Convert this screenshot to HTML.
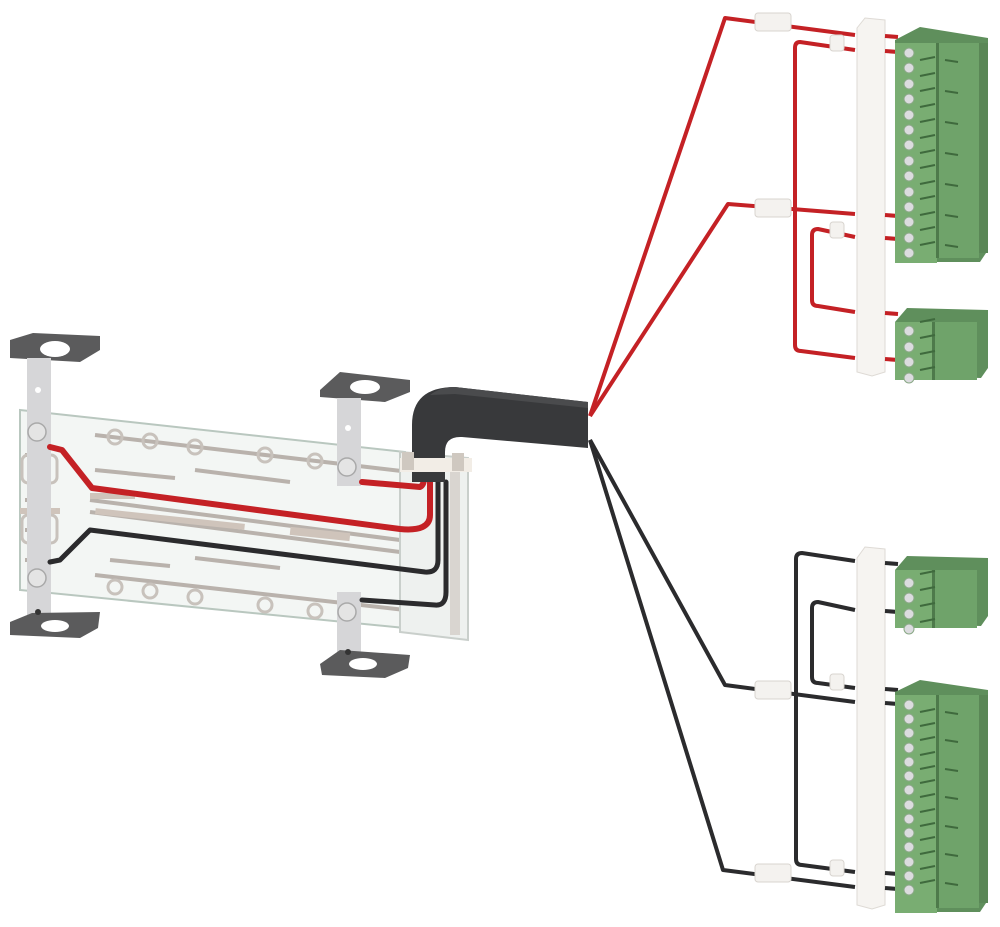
<!DOCTYPE html>
<html><head><meta charset="utf-8"><style>html,body{margin:0;padding:0;background:#fff}svg{display:block}</style></head>
<body>
<svg width="1000" height="927" viewBox="0 0 1000 927" xmlns="http://www.w3.org/2000/svg">
<defs>
<g id="pin4">
  <polygon points="0,14 12,0 93,2 93,60 86,70 0,68" fill="#5f8f5c"/>
  <rect x="0" y="14" width="40" height="58" fill="#79ad72"/>
  <rect x="40" y="14" width="42" height="58" fill="#6fa36a"/>
  <rect x="37" y="14" width="3" height="58" fill="#4e7a4b"/>
</g>
</defs>

<!-- LEFT ASSEMBLY -->
<!-- panel -->
<polygon points="20,410 405,452 405,628 20,590" fill="#f3f6f4" stroke="#b9c7bf" stroke-width="2"/>
<g fill="none" stroke="#b9b2ac" stroke-width="4">
  <path d="M95,435 L410,472"/>
  <path d="M95,470 L175,478 M195,470 L290,482"/>
  <path d="M90,500 L400,540"/>
  <path d="M90,512 L400,552"/>
  <path d="M95,575 L405,610"/>
  <path d="M110,560 L170,566 M195,558 L280,568"/>
  <path d="M25,455 L50,455 M25,500 L50,500 M25,530 L50,530 M25,560 L50,560"/>
</g>
<g fill="none" stroke="#c8c2bc" stroke-width="3">
  <circle cx="115" cy="437" r="7"/><circle cx="150" cy="441" r="7"/><circle cx="195" cy="447" r="7"/><circle cx="265" cy="455" r="7"/><circle cx="315" cy="461" r="7"/>
  <circle cx="115" cy="587" r="7"/><circle cx="150" cy="591" r="7"/><circle cx="195" cy="597" r="7"/><circle cx="265" cy="605" r="7"/><circle cx="315" cy="611" r="7"/>
  <rect x="22" y="455" width="35" height="28" rx="6"/><rect x="22" y="515" width="35" height="28" rx="6"/>
</g>
<rect x="90" y="493" width="45" height="6" fill="#cfc4bb"/>
<rect x="20" y="508" width="40" height="6" fill="#cfc4bb"/>
<rect x="290" y="530" width="60" height="8" fill="#cfc4bb" transform="rotate(6 320 534)"/>
<rect x="95" y="516" width="150" height="6" fill="#cfc4bb" transform="rotate(6 170 519)"/>

<!-- right transparent frame -->
<polygon points="400,452 468,458 468,640 400,632" fill="#eef1ef" stroke="#c9cfcb" stroke-width="2"/>
<rect x="450" y="470" width="10" height="165" fill="#d9d5d0"/>

<!-- brackets -->
<polygon points="10,340 33,333 100,336 100,350 80,362 10,358" fill="#5b5b5c"/>
<ellipse cx="55" cy="349" rx="15" ry="8" fill="#fff"/>
<rect x="27" y="358" width="24" height="260" fill="#d6d6d8"/>
<circle cx="38" cy="390" r="3" fill="#fff"/>
<polygon points="320,390 340,372 410,380 410,392 385,402 320,397" fill="#5b5b5c"/>
<ellipse cx="365" cy="387" rx="15" ry="7" fill="#fff"/>
<rect x="337" y="398" width="24" height="88" fill="#d6d6d8"/>
<rect x="337" y="592" width="24" height="70" fill="#d6d6d8"/>
<circle cx="348" cy="428" r="3" fill="#fff"/>
<polygon points="10,622 32,613 100,612 98,628 80,638 10,635" fill="#5b5b5c"/>
<ellipse cx="55" cy="626" rx="14" ry="6" fill="#fff"/>
<circle cx="38" cy="612" r="3" fill="#333"/>
<polygon points="320,664 340,650 410,655 408,668 385,678 322,675" fill="#5b5b5c"/>
<ellipse cx="363" cy="664" rx="14" ry="6" fill="#fff"/>
<circle cx="348" cy="652" r="3" fill="#333"/>
<!-- screws -->
<g fill="#e4e4e4" stroke="#a9a9a9" stroke-width="1.5">
  <circle cx="37" cy="432" r="9"/><circle cx="37" cy="578" r="9"/>
  <circle cx="347" cy="467" r="9"/><circle cx="347" cy="612" r="9"/>
</g>

<!-- red wires left -->
<g fill="none" stroke="#c42125" stroke-width="6" stroke-linejoin="round" stroke-linecap="round">
  <path d="M50,447 L62,450 L92,488 L400,529 Q430,532 430,515 L430,482"/>
  <path d="M362,482 L420,487 Q424,485 424,478"/>
</g>
<!-- black wires left -->
<g fill="none" stroke="#2b2b2d" stroke-width="5" stroke-linejoin="round" stroke-linecap="round">
  <path d="M50,562 L60,560 L90,530 L425,572 Q438,573 438,560 L438,482"/>
  <path d="M362,600 L435,605 Q446,606 446,592 L446,482"/>
</g>

<!-- bundle -->
<path d="M412,482 L412,425 Q412,387 455,387 L588,402 L588,448 L462,437 Q445,436 445,452 L445,482 Z" fill="#38393b"/>
<path d="M430,395 Q440,387 455,387 L588,402 L588,408 L455,394 Z" fill="#4a4b4d"/>
<rect x="400" y="458" width="72" height="14" fill="#f2ede6"/>
<rect x="402" y="452" width="12" height="18" fill="#cfc8c0"/>
<rect x="452" y="453" width="12" height="18" fill="#cfc8c0"/>

<!-- RIGHT: fanned wires -->
<g fill="none" stroke="#c42125" stroke-width="4" stroke-linejoin="round">
  <path d="M590,416 L725,18 L855,35"/>
  <path d="M590,416 L728,204 L855,214"/>
  <path d="M855,50 L800,42 Q795,42 795,48 L795,345 Q795,351 801,351 L855,358"/>
  <path d="M855,237 L818,229 Q812,229 812,235 L812,300 Q812,306 818,306 L855,312"/>
</g>
<g fill="none" stroke="#2b2b2d" stroke-width="4" stroke-linejoin="round">
  <path d="M590,440 L725,685 L855,702"/>
  <path d="M590,440 L723,870 L855,887"/>
  <path d="M855,561 L802,553 Q796,553 796,559 L796,859 Q796,865 802,865 L855,872"/>
  <path d="M855,610 L818,602 Q812,602 812,608 L812,677 Q812,683 818,683 L855,688"/>
</g>
<!-- clips -->
<g fill="#f4f2ef" stroke="#d8d4cf" stroke-width="1">
  <rect x="755" y="13" width="36" height="18" rx="3"/>
  <rect x="755" y="199" width="36" height="18" rx="3"/>
  <rect x="830" y="35" width="14" height="16" rx="3"/>
  <rect x="830" y="222" width="14" height="16" rx="3"/>
  <rect x="755" y="681" width="36" height="18" rx="3"/>
  <rect x="755" y="864" width="36" height="18" rx="3"/>
  <rect x="830" y="674" width="14" height="16" rx="3"/>
  <rect x="830" y="860" width="14" height="16" rx="3"/>
</g>
<!-- white bars -->
<g fill="#f6f4f1" stroke="#dedad5" stroke-width="1">
  <path d="M857,28 L865,18 L885,20 L885,372 L872,376 L857,372 Z"/>
  <path d="M857,558 L865,547 L885,549 L885,905 L872,909 L857,905 Z"/>
</g>
<!-- connector stubs -->
<g stroke="#c42125" stroke-width="4">
  <line x1="885" y1="36" x2="898" y2="37"/><line x1="885" y1="51" x2="898" y2="52"/>
  <line x1="885" y1="215" x2="898" y2="216"/><line x1="885" y1="238" x2="898" y2="239"/>
  <line x1="885" y1="313" x2="898" y2="314"/><line x1="885" y1="359" x2="898" y2="360"/>
</g>
<g stroke="#2b2b2d" stroke-width="4">
  <line x1="885" y1="563" x2="898" y2="564"/><line x1="885" y1="611" x2="898" y2="612"/>
  <line x1="885" y1="689" x2="898" y2="690"/><line x1="885" y1="703" x2="898" y2="704"/>
  <line x1="885" y1="873" x2="898" y2="874"/><line x1="885" y1="888" x2="898" y2="889"/>
</g>

<!-- green connectors -->
<!-- big top -->
<polygon points="895,40 920,27 988,38 988,250 980,262 895,262" fill="#5f8f5c"/>
<rect x="895" y="43" width="42" height="220" fill="#79ad72"/>
<rect x="937" y="43" width="42" height="215" fill="#6fa36a"/>
<rect x="936" y="43" width="3" height="215" fill="#4e7a4b"/>
<rect x="979" y="43" width="9" height="210" fill="#5a8756"/>
<g fill="#dcdcdf" stroke="#8aa886" stroke-width="1">
<circle cx="909" cy="53" r="5"/><circle cx="909" cy="68" r="5"/><circle cx="909" cy="84" r="5"/><circle cx="909" cy="99" r="5"/><circle cx="909" cy="115" r="5"/><circle cx="909" cy="130" r="5"/><circle cx="909" cy="145" r="5"/><circle cx="909" cy="161" r="5"/><circle cx="909" cy="176" r="5"/><circle cx="909" cy="192" r="5"/><circle cx="909" cy="207" r="5"/><circle cx="909" cy="222" r="5"/><circle cx="909" cy="238" r="5"/><circle cx="909" cy="253" r="5"/>
</g>
<g stroke="#3f6a3d" stroke-width="2">
<line x1="920" y1="60" x2="935" y2="57"/><line x1="920" y1="76" x2="935" y2="73"/><line x1="920" y1="91" x2="935" y2="88"/><line x1="920" y1="107" x2="935" y2="104"/><line x1="920" y1="122" x2="935" y2="119"/><line x1="920" y1="138" x2="935" y2="135"/><line x1="920" y1="153" x2="935" y2="150"/><line x1="920" y1="168" x2="935" y2="165"/><line x1="920" y1="184" x2="935" y2="181"/><line x1="920" y1="199" x2="935" y2="196"/><line x1="920" y1="215" x2="935" y2="212"/><line x1="920" y1="230" x2="935" y2="227"/><line x1="920" y1="245" x2="935" y2="242"/>
<line x1="945" y1="60" x2="958" y2="62"/><line x1="945" y1="91" x2="958" y2="93"/><line x1="945" y1="122" x2="958" y2="124"/><line x1="945" y1="153" x2="958" y2="155"/><line x1="945" y1="184" x2="958" y2="186"/><line x1="945" y1="215" x2="958" y2="217"/><line x1="945" y1="245" x2="958" y2="247"/>
</g>
<!-- small top -->
<use href="#pin4" x="895" y="308"/>
<g fill="#dcdcdf" stroke="#8aa886" stroke-width="1">
<circle cx="909" cy="331" r="5"/><circle cx="909" cy="347" r="5"/><circle cx="909" cy="362" r="5"/><circle cx="909" cy="378" r="5"/>
</g>
<!-- small bottom -->
<use href="#pin4" x="895" y="556"/>
<g fill="#dcdcdf" stroke="#8aa886" stroke-width="1">
<circle cx="909" cy="583" r="5"/><circle cx="909" cy="598" r="5"/><circle cx="909" cy="614" r="5"/><circle cx="909" cy="629" r="5"/>
</g>
<!-- big bottom -->
<polygon points="895,692 920,680 988,690 988,900 980,912 895,912" fill="#5f8f5c"/>
<rect x="895" y="695" width="42" height="218" fill="#79ad72"/>
<rect x="937" y="695" width="42" height="213" fill="#6fa36a"/>
<rect x="936" y="695" width="3" height="213" fill="#4e7a4b"/>
<rect x="979" y="695" width="9" height="208" fill="#5a8756"/>
<g fill="#dcdcdf" stroke="#8aa886" stroke-width="1">
<circle cx="909" cy="705" r="5"/><circle cx="909" cy="719" r="5"/><circle cx="909" cy="733" r="5"/><circle cx="909" cy="748" r="5"/><circle cx="909" cy="762" r="5"/><circle cx="909" cy="776" r="5"/><circle cx="909" cy="790" r="5"/><circle cx="909" cy="805" r="5"/><circle cx="909" cy="819" r="5"/><circle cx="909" cy="833" r="5"/><circle cx="909" cy="847" r="5"/><circle cx="909" cy="862" r="5"/><circle cx="909" cy="876" r="5"/><circle cx="909" cy="890" r="5"/>
</g>
<g stroke="#3f6a3d" stroke-width="2">
<line x1="920" y1="712" x2="935" y2="709"/><line x1="920" y1="726" x2="935" y2="723"/><line x1="920" y1="740" x2="935" y2="737"/><line x1="920" y1="755" x2="935" y2="752"/><line x1="920" y1="769" x2="935" y2="766"/><line x1="920" y1="783" x2="935" y2="780"/><line x1="920" y1="797" x2="935" y2="794"/><line x1="920" y1="812" x2="935" y2="809"/><line x1="920" y1="826" x2="935" y2="823"/><line x1="920" y1="840" x2="935" y2="837"/><line x1="920" y1="854" x2="935" y2="851"/><line x1="920" y1="869" x2="935" y2="866"/><line x1="920" y1="883" x2="935" y2="880"/>
<line x1="945" y1="712" x2="958" y2="714"/><line x1="945" y1="740" x2="958" y2="742"/><line x1="945" y1="769" x2="958" y2="771"/><line x1="945" y1="797" x2="958" y2="799"/><line x1="945" y1="826" x2="958" y2="828"/><line x1="945" y1="854" x2="958" y2="856"/><line x1="945" y1="883" x2="958" y2="885"/>
</g>
<g stroke="#3f6a3d" stroke-width="2">
<line x1="920" y1="322" x2="935" y2="319"/><line x1="920" y1="338" x2="935" y2="335"/><line x1="920" y1="354" x2="935" y2="351"/><line x1="920" y1="370" x2="935" y2="367"/>
<line x1="920" y1="574" x2="935" y2="571"/><line x1="920" y1="590" x2="935" y2="587"/><line x1="920" y1="606" x2="935" y2="603"/><line x1="920" y1="622" x2="935" y2="619"/>
</g>
</svg>
</body></html>
